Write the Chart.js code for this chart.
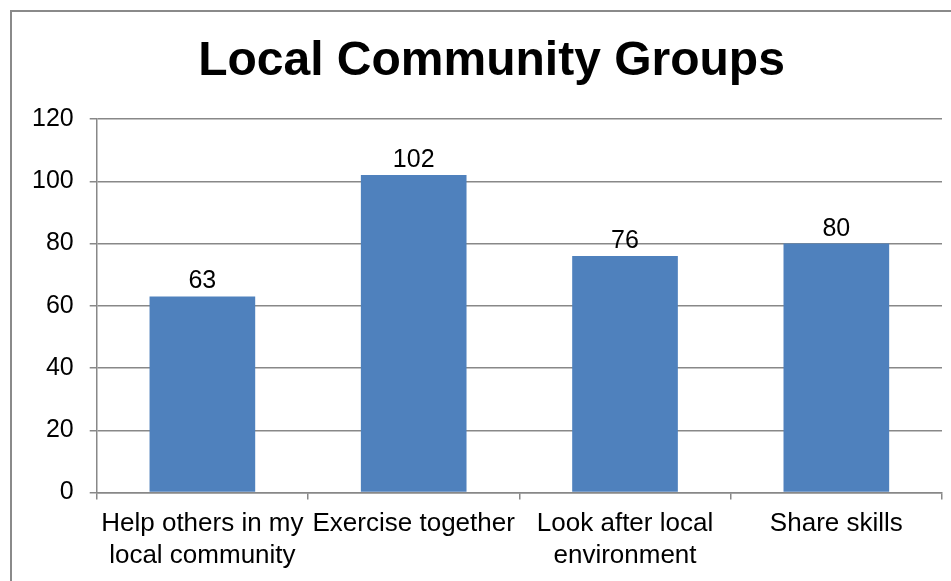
<!DOCTYPE html>
<html>
<head>
<meta charset="utf-8">
<title>Local Community Groups</title>
<script src="https://cdn.jsdelivr.net/npm/chart.js@4"></script>
<style>
  html, body { margin: 0; padding: 0; background: #fff; overflow: hidden; }
  #frame {
    position: absolute; left: 10px; top: 10px;
    width: 1200px; height: 900px;
    border: 2px solid #8a8a8a;
  }
  #wrap { position: absolute; left: 0; top: 0; width: 951px; height: 581px; }
  #title {
    position: absolute; left: 32px; top: 35px; width: 919px;
    text-align: center; white-space: nowrap;
    font: bold 48px/48px 'Liberation Sans', Arial, sans-serif; color: #000;
  }
</style>
</head>
<body>
<div id="frame"></div>
<div id="wrap"><canvas id="chart" width="951" height="581"></canvas></div>
<div id="title">Local Community Groups</div>
<script>
// ---- data ----
const categories = [
  ["Help others in my", "local community"],
  ["Exercise together"],
  ["Look after local", "environment"],
  ["Share skills"]
];
const counts = [63, 102, 76, 80];
const yTicks = [0, 20, 40, 60, 80, 100, 120];

const FONT = "'Liberation Sans', Arial, sans-serif";
const GRID = "#888888";

// value printed above each bar
const barValues = {
  id: "barValues",
  afterDatasetsDraw(chart) {
    const ctx = chart.ctx;
    const meta = chart.getDatasetMeta(0);
    ctx.save();
    ctx.font = "25px " + FONT;
    ctx.fillStyle = "#000";
    ctx.textAlign = "center";
    ctx.textBaseline = "alphabetic";
    meta.data.forEach((bar, i) => {
      ctx.fillText(String(counts[i]), bar.x, bar.y - 8);
    });
    ctx.restore();
  }
};

new Chart(document.getElementById("chart"), {
  type: "bar",
  data: {
    labels: categories,
    datasets: [{
      data: counts,
      backgroundColor: "#4F81BD",
      barPercentage: 0.5,
      categoryPercentage: 1
    }]
  },
  options: {
    responsive: false,
    animation: false,
    devicePixelRatio: 1,
    layout: { padding: { left: 16, right: 9, top: 119, bottom: 1 } },
    plugins: {
      legend: { display: false },
      tooltip: { enabled: false },
      title: { display: false }
    },
    scales: {
      x: {
        grid: { drawOnChartArea: false, drawTicks: true, tickLength: 7, color: GRID, lineWidth: 1.5, offset: true },
        border: { color: GRID, width: 1.5 },
        ticks: {
          color: "#000",
          font: { family: FONT, size: 26, lineHeight: 1.2 },
          padding: 9,
          maxRotation: 0,
          autoSkip: false
        }
      },
      y: {
        min: yTicks[0],
        max: yTicks[yTicks.length - 1],
        afterBuildTicks(axis) { axis.ticks = yTicks.map(v => ({ value: v })); },
        grid: { color: GRID, lineWidth: 1.5, tickLength: 7 },
        border: { color: GRID, width: 1.5 },
        ticks: {
          color: "#000",
          font: { family: FONT, size: 25 },
          padding: 16
        }
      }
    }
  },
  plugins: [barValues]
});
</script>
</body>
</html>
